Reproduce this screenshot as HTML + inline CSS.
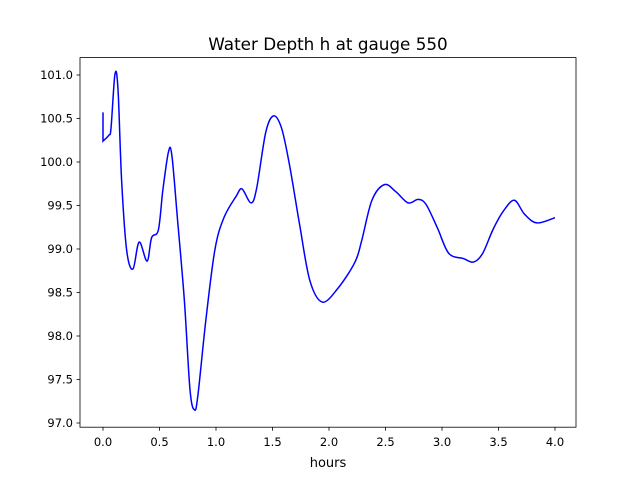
<!DOCTYPE html>
<html><head><meta charset="utf-8"><style>
body{margin:0;background:#fff;}
svg{display:block;font-family:"DejaVu Sans","Liberation Sans",sans-serif;}
</style></head><body>
<svg id="c" width="640" height="480">
<rect width="640" height="480" fill="#fff"/>
<text x="328" y="50" font-size="16.8" text-anchor="middle">Water Depth h at gauge 550</text>
<g id="ax"></g>
<path id="line" fill="none" stroke="#0000ff" stroke-width="1.5"/>
<rect x="80" y="57.6" width="496" height="369.6" fill="none" stroke="#000" stroke-width="0.8"/>
<text x="328" y="467" font-size="13" text-anchor="middle">hours</text>
</svg>
<script>
const hours=[0,0,0.053,0.071,0.106,0.133,0.165,0.21,0.265,0.32,0.39,0.43,0.49,0.53,0.58,0.61,0.66,0.72,0.77,0.81,0.84,0.91,0.99,1.07,1.18,1.23,1.31,1.36,1.44,1.51,1.58,1.65,1.74,1.83,1.94,2.08,2.23,2.29,2.38,2.49,2.59,2.7,2.79,2.86,2.96,3.06,3.19,3.28,3.36,3.45,3.54,3.64,3.73,3.84,4.0];
const depth=[100.57,100.24,100.31,100.39,101.01,100.83,99.78,98.98,98.77,99.08,98.86,99.13,99.22,99.68,100.12,100.07,99.33,98.41,97.38,97.15,97.32,98.18,98.99,99.36,99.61,99.69,99.53,99.70,100.34,100.53,100.39,99.97,99.28,98.64,98.39,98.55,98.85,99.10,99.56,99.74,99.66,99.53,99.57,99.51,99.24,98.95,98.89,98.85,98.95,99.22,99.43,99.56,99.40,99.30,99.36];
const xTicks=[0,0.5,1,1.5,2,2.5,3,3.5,4];
const yTicks=[97,97.5,98,98.5,99,99.5,100,100.5,101];
const X=h=>103+113*h, Y=v=>75+87*(101-v);
const NS="http://www.w3.org/2000/svg", ax=document.getElementById('ax');
function mk(t,a){const e=document.createElementNS(NS,t);for(const k in a)e.setAttribute(k,a[k]);ax.appendChild(e);return e;}
xTicks.forEach(t=>{
 const l=mk('line',{x1:X(t),x2:X(t),y1:427.2,y2:430.7,stroke:'#000','stroke-width':0.8});
 
 
 const s=mk('text',{x:X(t),y:446,'font-size':11.5,'text-anchor':'middle'});s.textContent=t.toFixed(1);
 
 
});
yTicks.forEach(t=>{
 const l=mk('line',{x1:76.5,x2:80,y1:Y(t),y2:Y(t),stroke:'#000','stroke-width':0.8});
 
 
 const s=mk('text',{x:73,y:Y(t)+4,'font-size':11.5,'text-anchor':'end'});s.textContent=t.toFixed(1);
 
 
});
const p=hours.map((h,i)=>[X(h),Y(depth[i])]);
let d=`M${p[0][0]},${p[0][1]} L${p[1][0]},${p[1][1]}`;
for(let i=1;i<p.length-1;i++){
 const p0=p[i-1],p1=p[i],p2=p[i+1],p3=p[Math.min(i+2,p.length-1)];
 const q0=i===1?p1:p0;
 const c1=[p1[0]+(p2[0]-q0[0])/6,p1[1]+(p2[1]-q0[1])/6];
 const c2=[p2[0]-(p3[0]-p1[0])/6,p2[1]-(p3[1]-p1[1])/6];
 d+=` C${c1[0]},${c1[1]} ${c2[0]},${c2[1]} ${p2[0]},${p2[1]}`;
}
document.getElementById('line').setAttribute('d',d);
</script>
</body></html>
